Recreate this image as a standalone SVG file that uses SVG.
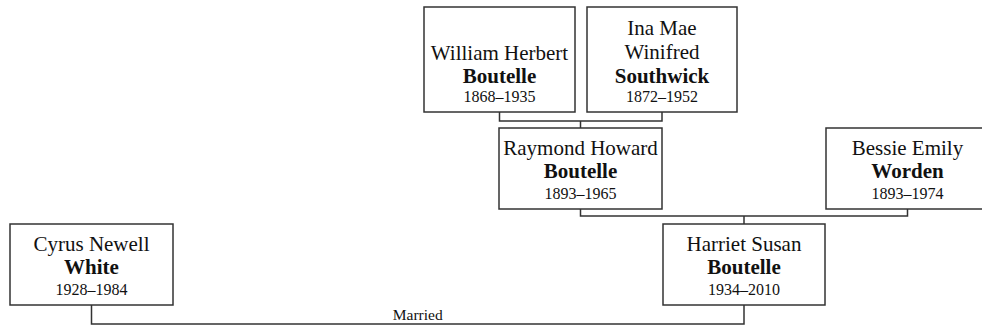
<svg xmlns="http://www.w3.org/2000/svg" width="982" height="328" viewBox="0 0 982 328" font-family="Liberation Serif, Times New Roman, serif">
<style>
.box{fill:#fff;stroke:#333;stroke-width:1.5}
.ln{fill:none;stroke:#333;stroke-width:1.5}
text{text-anchor:middle;fill:#111}
.n{font-size:21px}
.s{font-size:21px;font-weight:bold}
.d{font-size:16px}
.m{font-size:15.5px}
</style>
<rect width="982" height="328" fill="#fff"/>
<g id="connectors">
<path class="ln" d="M499.5,112 V121 H662 V112 M580.5,121 V128"/>
<path class="ln" d="M580.5,209 V216 H907.5 V209 M744,216 V224"/>
<path class="ln" d="M91.5,305 V324 H744 V305"/>
<text class="m" x="417.75" y="320" font-family="Liberation Serif, serif">Married</text>
</g>
<g id="william" font-family="Liberation Serif, serif">
<rect class="box" x="424" y="7" width="151" height="105"/>
<text class="n" x="499.5" y="60">William Herbert</text>
<text class="s" x="499.5" y="83">Boutelle</text>
<text class="d" x="499.5" y="102">1868–1935</text>
</g>
<g id="ina" font-family="Liberation Serif, serif">
<rect class="box" x="587" y="7" width="150" height="105"/>
<text class="n" x="662" y="35">Ina Mae</text>
<text class="n" x="662" y="59">Winifred</text>
<text class="s" x="662" y="83">Southwick</text>
<text class="d" x="662" y="102">1872–1952</text>
</g>
<g id="raymond" font-family="Liberation Serif, serif">
<rect class="box" x="499" y="128" width="163" height="81"/>
<text class="n" x="580.5" y="155">Raymond Howard</text>
<text class="s" x="580.5" y="178">Boutelle</text>
<text class="d" x="580.5" y="199">1893–1965</text>
</g>
<g id="bessie" font-family="Liberation Serif, serif">
<rect class="box" x="826" y="128" width="163" height="81"/>
<text class="n" x="907.5" y="155">Bessie Emily</text>
<text class="s" x="907.5" y="178">Worden</text>
<text class="d" x="907.5" y="199">1893–1974</text>
</g>
<g id="cyrus" font-family="Liberation Serif, serif">
<rect class="box" x="10" y="224" width="163" height="81"/>
<text class="n" x="91.5" y="251">Cyrus Newell</text>
<text class="s" x="91.5" y="274">White</text>
<text class="d" x="91.5" y="295">1928–1984</text>
</g>
<g id="harriet" font-family="Liberation Serif, serif">
<rect class="box" x="663" y="224" width="162" height="81"/>
<text class="n" x="744" y="251">Harriet Susan</text>
<text class="s" x="744" y="274">Boutelle</text>
<text class="d" x="744" y="295">1934–2010</text>
</g>
</svg>
